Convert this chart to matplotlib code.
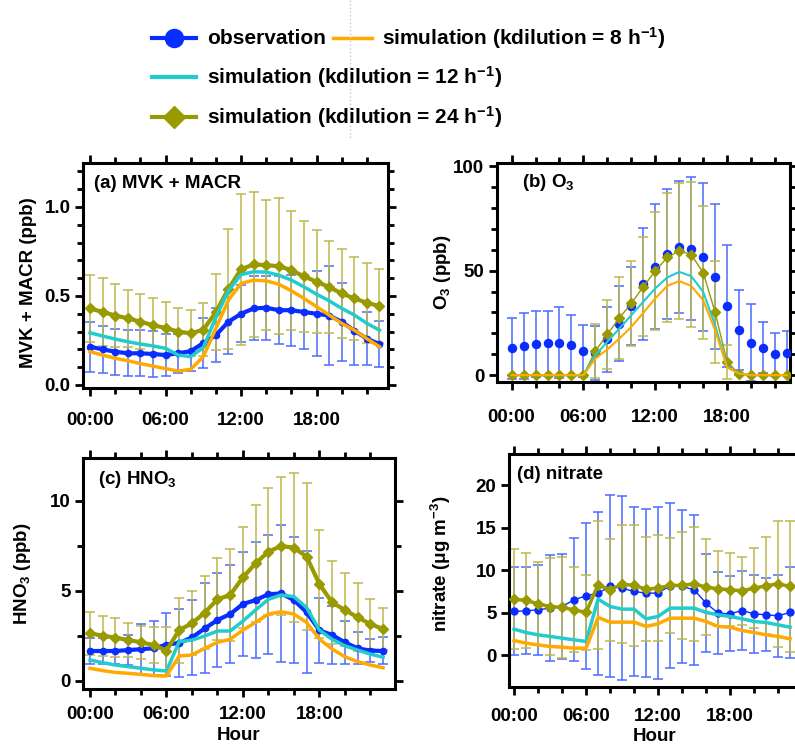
import numpy as np
import matplotlib
matplotlib.use("Agg")
import matplotlib.pyplot as plt
from matplotlib.lines import Line2D
from matplotlib.ticker import MultipleLocator, FuncFormatter

plt.rcParams['font.family'] = ['Liberation Sans', 'DejaVu Sans']
plt.rcParams['font.weight'] = 'bold'
plt.rcParams['mathtext.fontset'] = 'custom'
plt.rcParams['mathtext.rm'] = 'Liberation Sans:bold'
plt.rcParams['mathtext.bf'] = 'Liberation Sans:bold'
plt.rcParams['mathtext.it'] = 'Liberation Sans:bold'
plt.rcParams['mathtext.default'] = 'rm'

# -------------------------------
# Data (diurnal means, hour 0..23)
# -------------------------------
hours = np.arange(24)

# (a) MVK + MACR (ppb)
mvk_obs = [0.215, 0.20, 0.187, 0.178, 0.178, 0.174, 0.168, 0.178, 0.19, 0.235, 0.28, 0.355,
           0.40, 0.43, 0.434, 0.42, 0.42, 0.41, 0.40, 0.39, 0.355, 0.305, 0.26, 0.23]
mvk_obs_sd = [0.14, 0.13, 0.13, 0.13, 0.13, 0.13, 0.12, 0.11, 0.11, 0.14, 0.15, 0.18,
              0.16, 0.18, 0.18, 0.19, 0.20, 0.21, 0.24, 0.28, 0.22, 0.19, 0.15, 0.13]
mvk_k8 = [0.187, 0.168, 0.15, 0.136, 0.12, 0.106, 0.092, 0.078, 0.088, 0.159, 0.318, 0.477,
          0.57, 0.589, 0.585, 0.566, 0.529, 0.486, 0.44, 0.393, 0.346, 0.308, 0.26, 0.215]
mvk_k12 = [0.293, 0.275, 0.258, 0.243, 0.23, 0.219, 0.206, 0.168, 0.159, 0.21, 0.38, 0.53,
           0.62, 0.636, 0.634, 0.617, 0.589, 0.551, 0.51, 0.473, 0.43, 0.393, 0.346, 0.308]
mvk_k24 = [0.43, 0.41, 0.39, 0.375, 0.355, 0.336, 0.32, 0.30, 0.29, 0.31, 0.41, 0.54,
           0.65, 0.677, 0.673, 0.667, 0.645, 0.61, 0.58, 0.55, 0.514, 0.486, 0.462, 0.443]
mvk_k24_sd = [0.19, 0.19, 0.175, 0.16, 0.155, 0.154, 0.147, 0.134, 0.13, 0.148, 0.216, 0.338,
              0.425, 0.407, 0.364, 0.383, 0.335, 0.31, 0.29, 0.26, 0.25, 0.234, 0.224, 0.207]

# (b) O3 (ppb)
o3_obs = [12.8, 13.9, 14.8, 15.2, 15.6, 14.4, 11.6, 10.5, 17.2, 24.7, 33.2, 43.4,
          51.8, 58.2, 61.4, 60.4, 56.3, 47.0, 33.2, 21.5, 15.6, 13.2, 10.0, 10.7]
o3_obs_sd = [14.6, 15.6, 15.8, 15.4, 17.1, 14.3, 12.6, 13.0, 15.5, 18.0, 18.6, 26.8,
             29.9, 31.1, 31.5, 34.2, 35.4, 34.7, 29.3, 19.2, 18.4, 12.0, 10.3, 10.5]
o3_k8 = [0, 0, 0, 0, 0, 0, 0, 8.0, 12.3, 17.5, 23.1, 29.8,
         36.7, 42.7, 45.0, 42.7, 35.9, 21.5, 3.7, 0.8, 0, 0, 0, 0]
o3_k12 = [0, 0, 0, 0, 0, 0, 0, 9.6, 16.0, 22.3, 28.7, 35.1,
          41.5, 46.7, 49.4, 47.4, 39.9, 23.9, 4.0, 0.8, 0, 0, 0, 0]
o3_k24 = [0, 0, 0, 0, 0, 0, 0, 11.6, 19.5, 27.4, 34.3, 42.3,
          49.8, 56.3, 59.5, 57.7, 49.1, 30.1, 6.4, 0.5, 0, 0, 0, 0]
o3_k24_sd = [0, 0, 0, 0, 0, 0, 0, 13.0, 16.4, 19.5, 20.2, 23.6,
             28.4, 30.8, 32.4, 34.5, 31.7, 24.5, 8.2, 0.5, 0, 0, 0, 0]

# (c) HNO3 (ppb)
hno3_obs = [1.65, 1.65, 1.65, 1.7, 1.75, 1.8, 2.0, 2.1, 2.4, 2.9, 3.37, 3.7,
            4.26, 4.48, 4.8, 4.85, 4.48, 3.8, 2.8, 2.54, 2.13, 1.8, 1.67, 1.65]
hno3_obs_sd = [0.7, 0.7, 0.75, 0.85, 1.4, 1.5, 1.75, 1.9, 2.1, 2.5, 2.6, 2.7,
               2.9, 3.2, 3.3, 3.8, 3.5, 3.4, 1.8, 1.6, 1.2, 0.9, 0.65, 0.75]
hno3_k8 = [0.69, 0.56, 0.46, 0.41, 0.35, 0.28, 0.26, 1.37, 1.43, 1.8, 2.13, 2.3,
           2.81, 3.24, 3.7, 3.83, 3.7, 3.24, 2.31, 1.76, 1.33, 1.06, 0.87, 0.72]
hno3_k12 = [1.15, 1.0, 0.87, 0.78, 0.69, 0.6, 0.54, 2.17, 2.26, 2.48, 2.76, 2.76,
            3.31, 3.93, 4.52, 4.76, 4.67, 4.06, 2.81, 2.3, 1.94, 1.7, 1.48, 1.3]
hno3_k24 = [2.63, 2.5, 2.39, 2.26, 2.13, 1.98, 1.67, 2.81, 3.19, 3.78, 4.52, 4.76,
            5.74, 6.52, 7.17, 7.48, 7.39, 6.89, 5.37, 4.35, 3.93, 3.52, 3.15, 2.87]
hno3_k24_sd = [1.2, 1.11, 1.07, 0.96, 0.93, 0.98, 1.33, 1.8, 1.79, 2.03, 2.28, 2.54,
               2.82, 3.24, 3.53, 3.85, 4.13, 4.07, 3.0, 2.3, 2.03, 1.89, 1.37, 1.19]

# (d) nitrate (ug m-3)
no3_obs = [5.18, 5.25, 5.37, 5.57, 5.76, 6.55, 7.02, 7.33, 8.12, 7.92, 7.53, 7.33,
           7.33, 8.2, 8.12, 7.73, 6.16, 4.98, 4.9, 5.29, 4.9, 4.78, 4.67, 5.06]
no3_obs_sd = [5.17, 5.1, 5.3, 6.2, 6.15, 7.25, 8.55, 9.6, 10.7, 10.8, 9.9, 9.9,
              10.1, 9.7, 9.0, 8.8, 5.8, 4.78, 4.4, 4.6, 4.6, 4.3, 4.8, 5.4]
no3_k8 = [1.76, 1.45, 1.25, 1.06, 0.98, 0.86, 0.86, 4.47, 3.92, 3.92, 3.92, 3.41,
          3.73, 4.39, 4.39, 4.39, 4.0, 3.41, 3.33, 2.94, 2.7, 2.43, 2.24, 1.96]
no3_k12 = [3.1, 2.7, 2.43, 2.24, 2.04, 1.84, 1.65, 6.63, 5.76, 5.45, 5.45, 4.31,
           4.59, 5.57, 5.57, 5.57, 5.06, 4.78, 4.59, 4.31, 4.0, 3.88, 3.6, 3.33]
no3_k24 = [6.63, 6.47, 6.08, 5.76, 5.65, 5.37, 5.06, 8.31, 7.73, 8.39, 8.24, 7.8,
           7.92, 8.24, 8.24, 8.43, 8.04, 7.84, 7.73, 7.61, 7.92, 8.2, 8.43, 8.12]
no3_k24_sd = [5.9, 5.6, 4.9, 5.7, 5.9, 5.0, 4.44, 7.5, 6.0, 6.9, 7.1, 6.1,
              6.2, 5.6, 6.3, 6.7, 5.6, 4.4, 4.3, 4.0, 4.7, 5.7, 7.4, 7.7]

C_OBS = '#0a2dff'
C_OBS_ERR = '#4a6cff'
C_K8 = '#ffaa00'
C_K12 = '#22cccc'
C_K24 = '#999900'
C_K24_ERR = '#bdb84e'

fig = plt.figure(figsize=(7.95, 7.45), dpi=100)

panels = [
    dict(obs=mvk_obs, obs_sd=mvk_obs_sd, k8=mvk_k8, k12=mvk_k12, k24=mvk_k24, k24_sd=mvk_k24_sd,
         pos=[0.1044, 0.4792, 0.384, 0.302], xlim=(-0.56, 23.7), ylim=(-0.017, 1.247),
         ymaj=0.5, ymin=0.1, fmt='%.1f', ylabel='MVK + MACR (ppb)', title='(a) MVK + MACR',
         tpos=(0.036, 0.91), style='a', ylc=(-0.151, 0.47), xpad=11.5, xlab=None),
    dict(obs=o3_obs, obs_sd=o3_obs_sd, k8=o3_k8, k12=o3_k12, k24=o3_k24, k24_sd=o3_k24_sd,
         pos=[0.625, 0.4872, 0.3686, 0.294], xlim=(-1.23, 23.25), ylim=(-3.3, 101.5),
         ymaj=50, ymin=10, fmt='%d', ylabel='O$_3$ (ppb)', title='(b) O$_3$',
         tpos=(0.085, 0.909), style='b', ylc=(-0.15, 0.5), xpad=13.5, xlab=None),
    dict(obs=hno3_obs, obs_sd=hno3_obs_sd, k8=hno3_k8, k12=hno3_k12, k24=hno3_k24, k24_sd=hno3_k24_sd,
         pos=[0.1044, 0.0752, 0.3925, 0.310], xlim=(-0.55, 23.94), ylim=(-0.46, 12.37),
         ymaj=5, ymin=2.5, fmt='%d', ylabel='HNO$_3$ (ppb)', title='(c) HNO$_3$',
         tpos=(0.048, 0.905), style='a', ylc=(-0.16, 0.5), xpad=6.5, xlab=-0.2),
    dict(obs=no3_obs, obs_sd=no3_obs_sd, k8=no3_k8, k12=no3_k12, k24=no3_k24, k24_sd=no3_k24_sd,
         pos=[0.6403, 0.0779, 0.366, 0.3128], xlim=(-0.42, 23.83), ylim=(-3.7, 23.7),
         ymaj=5, ymin=None, fmt='%d', ylabel='nitrate (μg m$^{-3}$)', title='(d) nitrate',
         tpos=(0.027, 0.91), style='d', ylc=(-0.192, 0.53), xpad=9.5, xlab=-0.212),
]

for p in panels:
    ax = fig.add_axes(p['pos'])
    st = p['style']

    # error bars
    ax.errorbar(hours, p['obs'], yerr=p['obs_sd'], fmt='none', ecolor=C_OBS_ERR,
                elinewidth=1.3, capsize=3.5, capthick=1.3, alpha=0.85, zorder=1)
    ax.errorbar(hours, p['k24'], yerr=p['k24_sd'], fmt='none', ecolor=C_K24_ERR,
                elinewidth=1.3, capsize=3.5, capthick=1.3, alpha=0.85, zorder=1)

    if st == 'a':
        ax.plot(hours, p['obs'], color=C_OBS, lw=3, marker='o', ms=4.5, zorder=3)
        ax.plot(hours, p['k24'], color=C_K24, lw=3, marker='D', ms=5, zorder=3)
        ax.plot(hours, p['k12'], color=C_K12, lw=2.5, zorder=4)
        ax.plot(hours, p['k8'], color=C_K8, lw=2.5, zorder=4)
    elif st == 'b':
        ax.plot(hours, p['obs'], color=C_OBS, lw=0, marker='o', ms=5.8, zorder=3)
        ax.plot(hours, p['k24'], color=C_K24, lw=1, marker='D', ms=5.2, zorder=3)
        ax.plot(hours, p['k12'], color=C_K12, lw=1.5, zorder=4)
        ax.plot(hours, p['k8'], color=C_K8, lw=1.5, zorder=4)
    else:
        ax.plot(hours, p['obs'], color=C_OBS, lw=1, marker='o', ms=5, zorder=3)
        ax.plot(hours, p['k24'], color=C_K24, lw=2.5, marker='D', ms=5.6, zorder=3)
        ax.plot(hours, p['k12'], color=C_K12, lw=2.5, zorder=4)
        ax.plot(hours, p['k8'], color=C_K8, lw=2.5, zorder=4)

    ax.set_xlim(*p['xlim'])
    ax.set_ylim(*p['ylim'])
    ax.xaxis.set_major_locator(MultipleLocator(6))
    ax.xaxis.set_minor_locator(MultipleLocator(2))
    ax.xaxis.set_major_formatter(FuncFormatter(lambda v, pos: '%02d:00' % int(round(v))))
    ax.yaxis.set_major_locator(MultipleLocator(p['ymaj']))
    if p['ymin']:
        ax.yaxis.set_minor_locator(MultipleLocator(p['ymin']))
    ax.yaxis.set_major_formatter(FuncFormatter(lambda v, pos, f=p['fmt']: f % v))

    ax.tick_params(which='both', direction='out', top=True, right=True, width=2,
                   labelsize=13.5, pad=3)
    ax.tick_params(axis='x', which='major', pad=p['xpad'])
    ax.tick_params(which='major', length=6)
    ax.tick_params(which='minor', length=4)
    for sp in ax.spines.values():
        sp.set_linewidth(2.2)

    ax.set_ylabel(p['ylabel'], fontsize=13.5, fontweight='bold')
    ax.yaxis.set_label_coords(*p['ylc'])
    if p['xlab'] is not None:
        ax.set_xlabel('Hour', fontsize=13.5, fontweight='bold', va='center')
        ax.xaxis.set_label_coords(0.5, p['xlab'])
    ax.text(p['tpos'][0], p['tpos'][1], p['title'], transform=ax.transAxes,
            fontsize=13.5, fontweight='bold', va='center', ha='left')

# -------------------------------
# Legend (drawn by hand at the top)
# -------------------------------
W, H = 795.0, 745.0

def fx(x):
    return x / W

def fy(y):
    return 1 - y / H

def handle(x0, x1, y, color, lw, marker=None, ms=0):
    fig.add_artist(Line2D([fx(x0), fx(x1)], [fy(y), fy(y)], color=color, lw=lw))
    if marker:
        fig.add_artist(Line2D([fx((x0 + x1) / 2)], [fy(y)], color=color, marker=marker,
                              ms=ms, lw=0))

LFS = 15
handle(152, 196, 38, C_OBS, 3, 'o', 13)
fig.text(fx(207), fy(38), 'observation', fontsize=LFS, fontweight='bold', va='center')
handle(333, 372, 38, C_K8, 2.5)
fig.text(fx(382), fy(38), 'simulation (kdilution = 8 h$^{-1}$)', fontsize=LFS,
         fontweight='bold', va='center')
handle(152, 196, 77, C_K12, 3)
fig.text(fx(207), fy(77), 'simulation (kdilution = 12 h$^{-1}$)', fontsize=LFS,
         fontweight='bold', va='center')
handle(152, 196, 117, C_K24, 3, 'D', 11.5)
fig.text(fx(207), fy(117), 'simulation (kdilution = 24 h$^{-1}$)', fontsize=LFS,
         fontweight='bold', va='center')

# faint dotted guide line seen in the original
fig.add_artist(Line2D([fx(350), fx(350)], [1, fy(140)], color='#c8c8c8', lw=1, ls=':'))

fig.savefig('out.png', dpi=100)
